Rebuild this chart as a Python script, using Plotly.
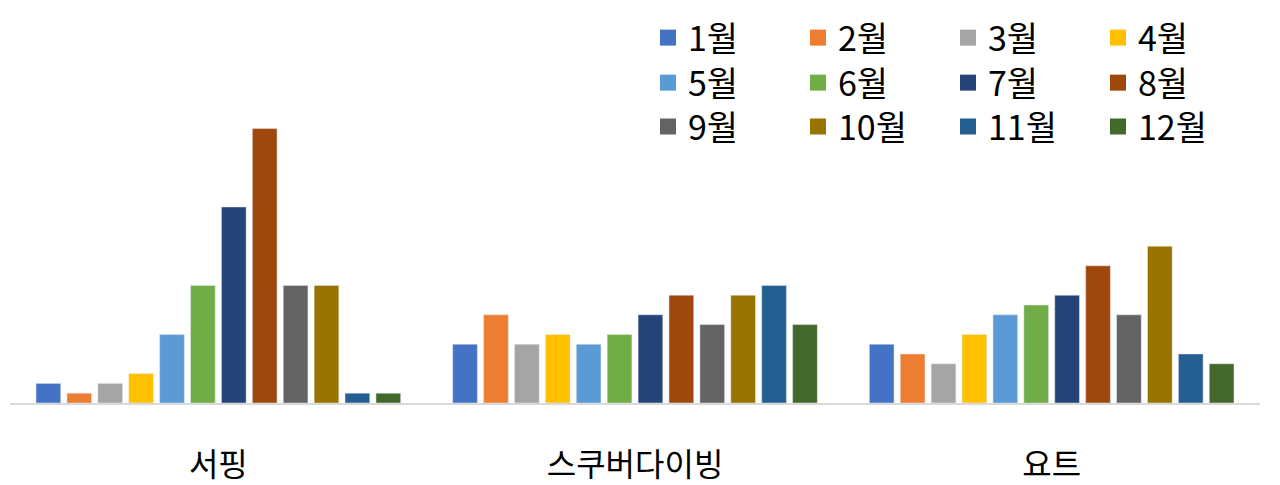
import plotly.graph_objects as go

categories = ['서핑', '스쿠버다이빙', '요트']
months = ['1월', '2월', '3월', '4월', '5월', '6월', '7월', '8월', '9월', '10월', '11월', '12월']

surfing = [2, 1, 2, 3, 7, 12, 20, 28, 12, 12, 1, 1]
scuba = [6, 9, 6, 7, 6, 7, 9, 11, 8, 11, 12, 8]
yacht = [6, 5, 4, 7, 9, 10, 11, 14, 9, 16, 5, 4]

colors = ['#4472C4', '#ED7D31', '#A5A5A5', '#FFC000', '#5B9BD5', '#70AD47',
          '#264478', '#9E480E', '#636363', '#997300', '#255E91', '#43682B']

legend_rows = ['legend', 'legend2', 'legend3']

fig = go.Figure()
for i, m in enumerate(months):
    fig.add_trace(go.Bar(x=categories, y=[surfing[i], scuba[i], yacht[i]],
                         name=m, marker_color=colors[i], showlegend=False))
    # bigger square for legend, 4 months per legend row
    fig.add_trace(go.Scatter(x=[None], y=[None], mode='markers', name=m,
                             legend=legend_rows[i // 4],
                             marker=dict(symbol='square', size=16, color=colors[i])))

row_y = [0.924, 0.81, 0.699]
leg = dict(orientation='h', x=0.5104, xanchor='left', yanchor='middle',
           font=dict(size=34), entrywidth=105, entrywidthmode='pixels',
           itemsizing='trace', bgcolor='rgba(0,0,0,0)')

fig.update_layout(
    width=1280, height=485,
    barmode='group', bargap=0.11, bargroupgap=0.2,
    paper_bgcolor='white', plot_bgcolor='white',
    margin=dict(l=2, r=28, t=0, b=90, autoexpand=False),
    font=dict(family='Noto Sans CJK KR', color='#000000'),
    xaxis=dict(showline=True, linecolor='#D9D9D9', linewidth=2, ticks='',
               tickfont=dict(size=32), ticklabelstandoff=33, automargin=False),
    yaxis=dict(range=[0, 40.3], visible=False),
    legend=dict(leg, y=row_y[0]),
    legend2=dict(leg, y=row_y[1]),
    legend3=dict(leg, y=row_y[2]),
)

fig.write_html('out.html')
